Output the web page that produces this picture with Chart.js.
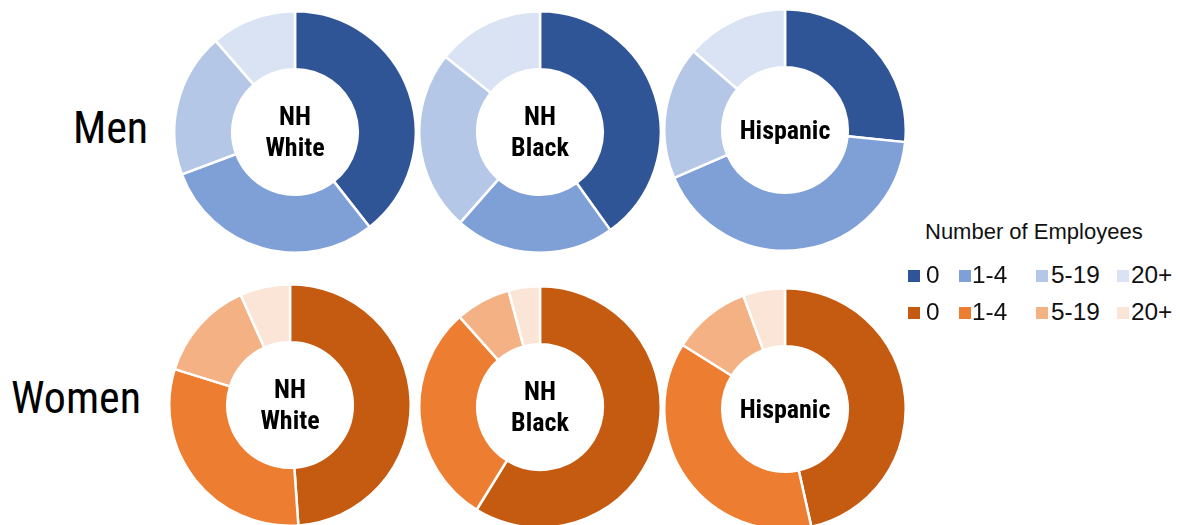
<!DOCTYPE html>
<html>
<head>
<meta charset="utf-8">
<script src="https://cdn.jsdelivr.net/npm/chart.js@4.4.1/dist/chart.umd.min.js"></script>
<style>
  html, body { margin: 0; padding: 0; background: #fff; }
  body { width: 1180px; height: 525px; position: relative; overflow: hidden;
         font-family: 'Liberation Sans Narrow', 'Arial Narrow', 'Roboto Condensed', sans-serif; }
  .donut { position: absolute; width: 244px; height: 244px; }
  .donut canvas { position: absolute; left: 0; top: 0; }
  .center { position: absolute; left: 0; top: 0; width: 244px; height: 244px;
            display: flex; align-items: center; justify-content: center; text-align: center;
            font-weight: bold; font-size: 26px; line-height: 31px; color: #000; }
  .row-label { position: absolute; font-size: 44px; color: #000; }
  .lg { position: absolute; color: #111; font-family: 'Liberation Sans', Arial, sans-serif;
        white-space: nowrap; transform-origin: left center; }
  .lg-title { font-size: 22px; line-height: 24px; }
  .lg-text { font-size: 23px; line-height: 24px; transform: scaleX(1.06); }
  .lg-sw { position: absolute; width: 12px; height: 12px; }
</style>
</head>
<body>
<div class="row-label" style="left:73px; top:102px;">Men</div>
<div class="row-label" style="left:11px; top:372px;">Women</div>
<div id="charts"></div>
<div id="legend"></div>

<script>
// employee size classes, clockwise from 12 o'clock
const sizeClasses = ['0', '1-4', '5-19', '20+'];
const groups = ['NH White', 'NH Black', 'Hispanic'];

// percent of businesses in each size class
const menWhite = [39.4, 29.9, 19.3, 11.4];
const menBlack = [40.1, 21.4, 24.2, 14.3];
const menHispanic = [26.6, 41.9, 17.8, 13.7];
const womenWhite = [48.9, 30.9, 13.5, 6.7];
const womenBlack = [58.8, 29.6, 7.4, 4.2];
const womenHispanic = [46.5, 37.4, 10.5, 5.6];

const blues = ['#2F5597', '#7F9FD7', '#B4C7E7', '#DAE3F3'];
const oranges = ['#C55A11', '#ED7D31', '#F4B183', '#FBE5D6'];

const panels = [
  { data: menWhite, colors: blues, label: groups[0], cx: 295, cy: 132 },
  { data: menBlack, colors: blues, label: groups[1], cx: 540, cy: 132 },
  { data: menHispanic, colors: blues, label: groups[2], cx: 785, cy: 130 },
  { data: womenWhite, colors: oranges, label: groups[0], cx: 290, cy: 405 },
  { data: womenBlack, colors: oranges, label: groups[1], cx: 540, cy: 407 },
  { data: womenHispanic, colors: oranges, label: groups[2], cx: 785, cy: 409 }
];

const holder = document.getElementById('charts');
panels.forEach(function (p) {
  const box = document.createElement('div');
  box.className = 'donut';
  box.style.left = (p.cx - 122) + 'px';
  box.style.top = (p.cy - 122) + 'px';
  const canvas = document.createElement('canvas');
  canvas.width = 244;
  canvas.height = 244;
  box.appendChild(canvas);
  const center = document.createElement('div');
  center.className = 'center';
  center.innerHTML = p.label.replace(' ', '<br>');
  box.appendChild(center);
  holder.appendChild(box);

  new Chart(canvas.getContext('2d'), {
    type: 'doughnut',
    data: {
      labels: sizeClasses,
      datasets: [{
        data: p.data,
        backgroundColor: p.colors,
        borderColor: '#ffffff',
        borderWidth: 2.5
      }]
    },
    options: {
      responsive: false,
      animation: false,
      cutout: '52%',
      layout: { padding: 0 },
      plugins: { legend: { display: false }, tooltip: { enabled: false } }
    }
  });
});

// shared legend: blue row for men, orange row for women
const legend = document.getElementById('legend');
const swatchX = [908, 959, 1036, 1117];
const textX = [926, 972, 1051, 1131];
const rowY = [276, 313];
let html = '<div class="lg lg-title" style="left:925px; top:220px;">Number of Employees</div>';
[blues, oranges].forEach(function (cols, r) {
  sizeClasses.forEach(function (s, i) {
    html += '<div class="lg-sw" style="left:' + swatchX[i] + 'px; top:' + (rowY[r] - 6) +
      'px; background:' + cols[i] + '"></div>';
    html += '<div class="lg lg-text" style="left:' + textX[i] + 'px; top:' + (rowY[r] - 13) +
      'px;">' + s + '</div>';
  });
});
legend.innerHTML = html;
</script>
</body>
</html>
